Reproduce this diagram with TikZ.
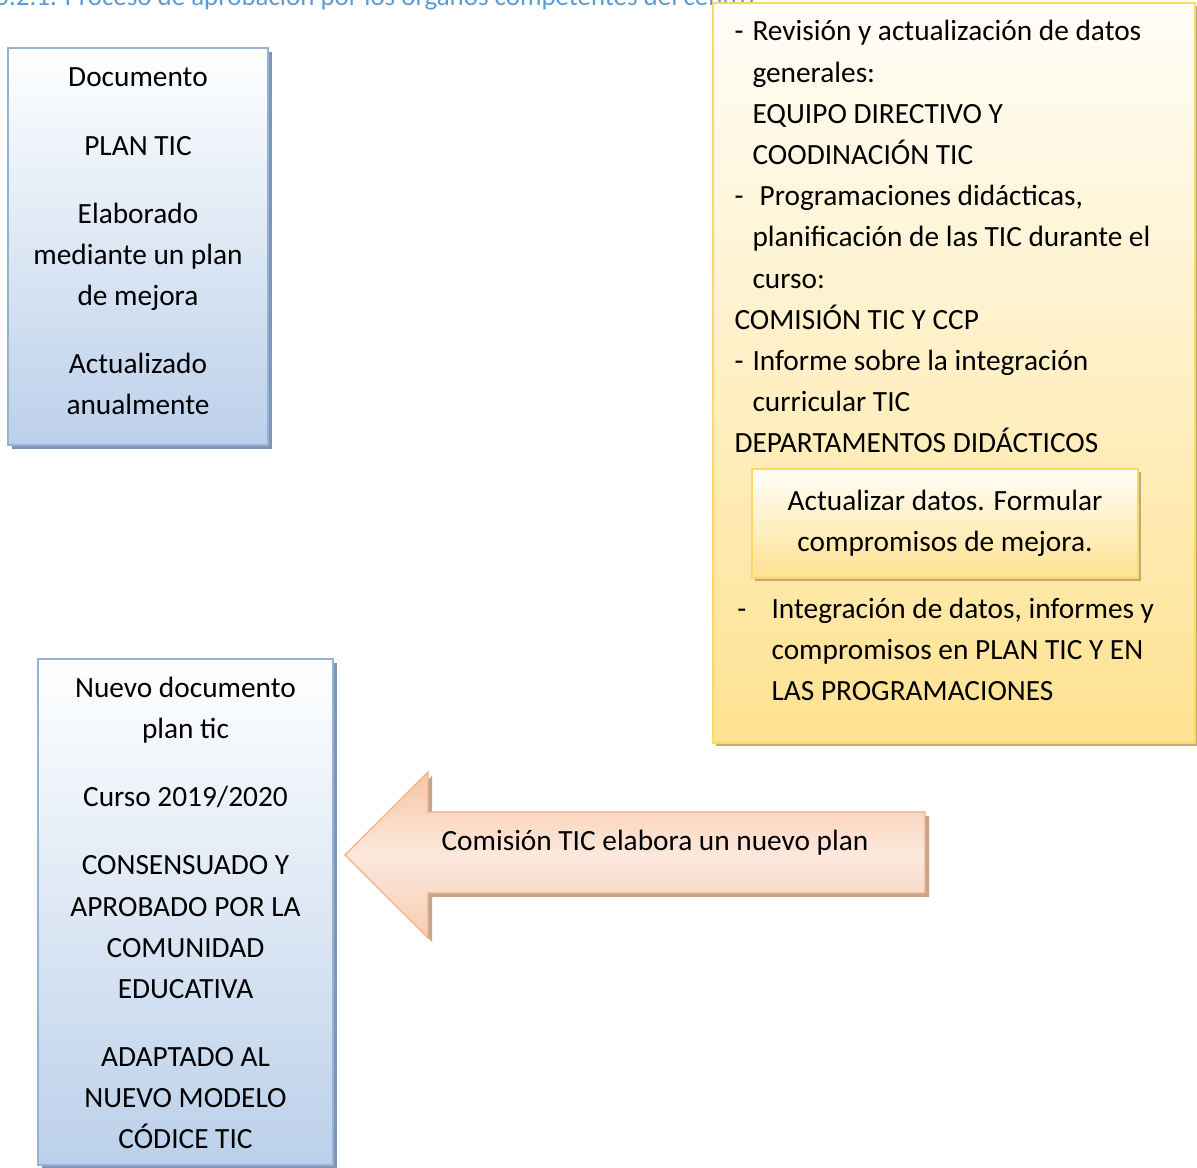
\documentclass[tikz,border=0pt]{standalone}
\usepackage{fontspec}
\setmainfont{Carlito}
\usetikzlibrary{shadows}
\definecolor{blueborder}{RGB}{149,179,215}
\definecolor{bluefill}{RGB}{187,208,234}
\definecolor{blueshadow}{RGB}{128,150,182}
\definecolor{goldborder}{RGB}{255,215,100}
\definecolor{goldfill}{RGB}{255,226,145}
\definecolor{goldtop}{RGB}{255,253,248}
\definecolor{goldshadow}{RGB}{190,172,115}
\definecolor{peachborder}{RGB}{244,177,131}
\definecolor{peachtop}{RGB}{247,198,165}
\definecolor{peachmid}{RGB}{252,232,220}
\definecolor{peachbot}{RGB}{246,205,178}
\definecolor{peachshadow}{RGB}{192,165,145}
\definecolor{titleblue}{RGB}{91,155,213}
\begin{document}
\begin{tikzpicture}[x=0.375pt,y=-0.375pt,
  txt/.style={font=\fontsize{11}{15.45}\selectfont, inner sep=0pt},
  bluebox/.style={draw=blueborder, line width=0.75pt, top color=white, bottom color=bluefill, inner sep=0pt,
    general shadow={fill=blueshadow, shadow xshift=1.5pt, shadow yshift=-1.5pt}},
  goldbox/.style={txt, draw=goldborder, line width=0.75pt, top color=goldtop, bottom color=goldfill,
    general shadow={fill=goldshadow, shadow xshift=1.2pt, shadow yshift=-1.2pt}},
  arrowshape/.style={draw=peachborder, line width=0.5pt, top color=peachtop, bottom color=peachbot, middle color=peachmid,
    general shadow={fill=peachshadow, shadow xshift=1.5pt, shadow yshift=-1.5pt}},
  linestyle/.style={txt, anchor=base west, align=left},
  centerlines/.style={txt, anchor=base, align=center}
]
\useasboundingbox (0,0) rectangle (1197,1168);
\fill[white] (0,0) rectangle (1197,1168);

% title (cut at the top edge)
\node[inner sep=0pt, anchor=base west, text=titleblue, font=\fontsize{10.1}{12}\selectfont] (title) at (-5,6)
  {5.2.1. Proceso de aprobación por los órganos competentes del centro};

% box 1
\node[bluebox, minimum width=97.5pt, minimum height=148.9pt] (doc) at (138,246.5) {};
\node[centerlines] (doctext) at (138,415)
  {Documento\\[10.1pt] PLAN TIC\\[10.1pt] Elaborado\\ mediante un plan\\ de mejora\\[10.1pt] Actualizado\\ anualmente};

% box 2
\node[bluebox, minimum width=110.6pt, minimum height=189.75pt] (nuevo) at (185.5,912) {};
\node[centerlines] (nuevotext) at (185.5,1149)
  {Nuevo documento\\ plan tic\\[10.1pt] Curso 2019/2020\\[10.1pt] CONSENSUADO Y\\ APROBADO POR LA\\ COMUNIDAD\\ EDUCATIVA\\[10.1pt] ADAPTADO AL\\ NUEVO MODELO\\ CÓDICE TIC};

% yellow box
\node[goldbox, minimum width=180.75pt, minimum height=277.5pt] (proc) at (954,373) {};
\node[linestyle] (proctext) at (734,453)
  {\makebox[6.75pt][l]{-}Revisión y actualización de datos\\
   \hspace*{6.75pt}generales:\\
   \hspace*{6.75pt}EQUIPO DIRECTIVO Y\\
   \hspace*{6.75pt}COODINACIÓN TIC\\
   \makebox[9.4pt][l]{-}Programaciones didácticas,\\
   \hspace*{6.75pt}planificación de las TIC durante el\\
   \hspace*{6.75pt}curso:\\
   COMISIÓN TIC Y CCP\\
   \makebox[6.75pt][l]{-}Informe sobre la integración\\
   \hspace*{6.75pt}curricular TIC\\
   DEPARTAMENTOS DIDÁCTICOS};
\node[goldbox, align=center, minimum width=144.75pt, minimum height=40.9pt] (act) at (945,523.5)
  {Actualizar datos. Formular\\ compromisos de mejora.};
\node[linestyle] (integ) at (734,701)
  {\hspace*{1.1pt}\makebox[12.8pt][l]{-}Integración de datos, informes y\\
   \hspace*{13.9pt}compromisos en PLAN TIC Y EN\\
   \hspace*{13.9pt}LAS PROGRAMACIONES};

% block arrow
\path[arrowshape] (345,855) -- (428,772) -- (428,812) -- (925,812) -- (925,893) -- (428,893) -- (428,938) -- cycle;
\node[txt, anchor=base] (arrowtxt) at (655,851) {Comisión TIC elabora un nuevo plan};
\end{tikzpicture}
\end{document}
